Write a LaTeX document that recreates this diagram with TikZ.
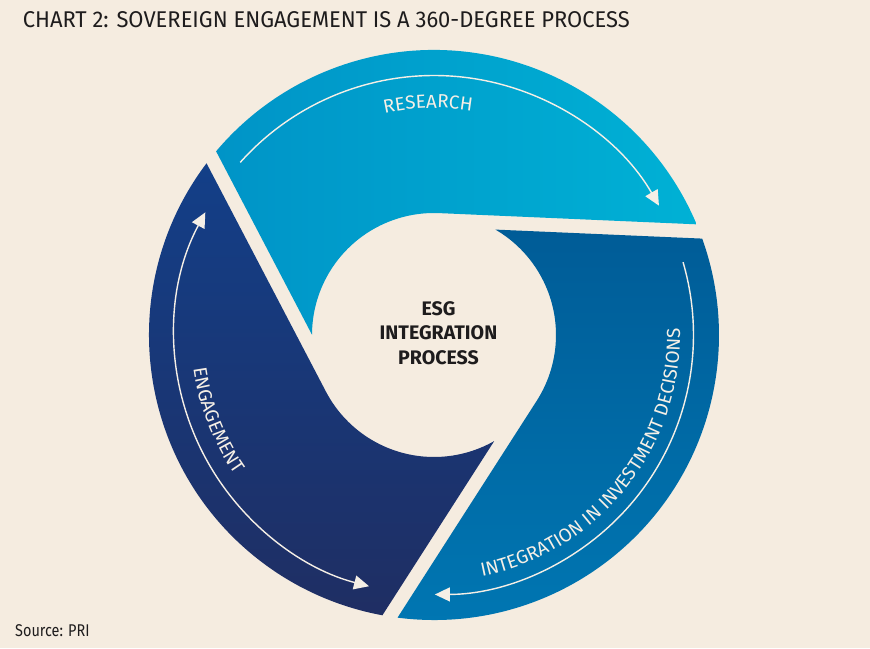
\documentclass[tikz,border=0pt]{standalone}
\usepackage{fontspec}
\setmainfont{Fira Sans}
\usetikzlibrary{arrows.meta,decorations.text}
\definecolor{bg}{HTML}{F5ECE0}
\definecolor{resL}{HTML}{0094C7}
\definecolor{resR}{HTML}{00B1D5}
\definecolor{engT}{HTML}{133F88}
\definecolor{engB}{HTML}{1F2E63}
\definecolor{intT}{HTML}{005C97}
\definecolor{intB}{HTML}{0077B3}
\definecolor{cream}{HTML}{F5EFE6}
\definecolor{ink}{HTML}{1E1C1D}
\newcommand\ringfont{\fontsize{18.9pt}{20pt}\selectfont}
\begin{document}
\begin{tikzpicture}[x=1pt,y=1pt,
  flow/.style={draw=cream, line width=1.4pt},
  tiph/.tip={Triangle[length=15pt,width=14pt]},
  ringlabel/.style={decorate, decoration={text along path, text align=center, text color=cream, text={#1}}}]
% background / bounding box
\fill[bg] (-434,-313) rectangle (436,335);
\useasboundingbox (-434,-313) rectangle (436,335);
% segments
\shade[left color=resL, right color=resR]
  (87.5:122pt) -- (22.85:285pt) arc[start angle=22.85, end angle=139.87, radius=285pt]
  -- (179.87:122pt) arc[start angle=179.87, end angle=87.5, radius=122pt] -- cycle;
\shade[top color=engT, bottom color=engB]
  (207.6:122pt) -- (142.95:285pt) arc[start angle=142.95, end angle=259.57, radius=285pt]
  -- (299.57:122pt) arc[start angle=299.57, end angle=207.6, radius=122pt] -- cycle;
\shade[top color=intT, bottom color=intB]
  (327.3:122pt) -- (262.65:285pt) arc[start angle=262.65, end angle=379.77, radius=285pt]
  -- (419.77:122pt) arc[start angle=419.77, end angle=327.3, radius=122pt] -- cycle;
% flow arrows
\coordinate (rs) at (138.3:259.5pt);
\coordinate (es) at (151.8:259.5pt);
\coordinate (is) at (16.3:259.5pt);
\draw[flow, -tiph] (rs) arc[start angle=138.3, end angle=29.9, radius=259.5pt];
\draw[flow, tiph-tiph] (es) arc[start angle=151.8, end angle=255.5, radius=259.5pt];
\draw[flow, -tiph] (is) arc[start angle=16.3, end angle=-89.8, radius=259.5pt];
% ring labels
\path[ringlabel={|\ringfont|RESEARCH}] (151.5:227pt) arc[start angle=151.5, end angle=31.5, radius=227pt];
\path[ringlabel={|\ringfont|ENGAGEMENT}] (171.5:243pt) arc[start angle=171.5, end angle=231.5, radius=243pt];
\path[ringlabel={|\ringfont|INTEGRATION IN INVESTMENT DECISIONS}] (261.4:246pt) arc[start angle=261.4, end angle=381.4, radius=246pt];
% centre
\node[align=center, text=ink, inner sep=0, font=\bfseries\fontsize{19.6pt}{24.5pt}\selectfont] (esg) at (4.5,2.25) {ESG\\INTEGRATION\\PROCESS};
% title and source
\node[anchor=base west, inner sep=0, text=ink, font=\fontsize{22.8pt}{24pt}\selectfont] (title) at (-411.3,307) {\scalebox{0.962}[1]{CHART 2: SOVEREIGN ENGAGEMENT IS A 360-DEGREE PROCESS}};
\node[anchor=base west, inner sep=0, text=ink, font=\fontsize{17pt}{18pt}\selectfont] (src) at (-419,-301) {\scalebox{0.85}[1]{Source: PRI}};
\end{tikzpicture}
\end{document}
